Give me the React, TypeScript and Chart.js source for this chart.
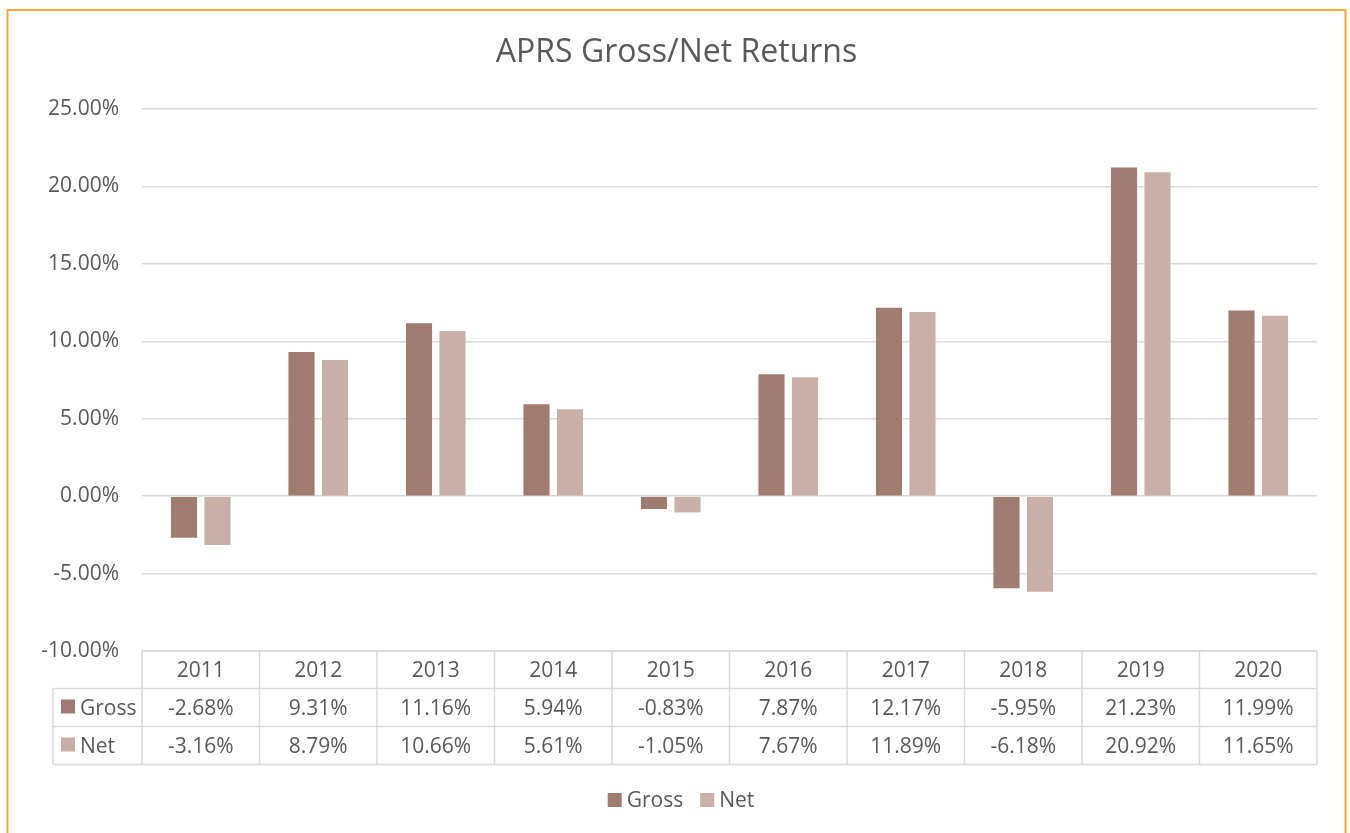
import React, { useEffect, useRef } from "react";
import { Chart, registerables } from "chart.js";

Chart.register(...registerables);

const chartTitle = "APRS Gross/Net Returns";
const categories = ["2011", "2012", "2013", "2014", "2015", "2016", "2017", "2018", "2019", "2020"];
const seriesNames = ["Gross", "Net"];
const grossValues = [-2.68, 9.31, 11.16, 5.94, -0.83, 7.87, 12.17, -5.95, 21.23, 11.99];
const netValues = [-3.16, 8.79, 10.66, 5.61, -1.05, 7.67, 11.89, -6.18, 20.92, 11.65];
const yMin = -10;
const yMax = 25;
const yStep = 5;

const FONT = '"Open Sans", sans-serif';
const TEXT = "#595959";
const GRID = "#D9D9D9";
const COLORS = ["#A07B70", "#C9AFA8"];
const BORDER = "#F4A63A";

const fmt = (v: number) => v.toFixed(2) + "%";

const decorPlugin = {
  id: "decor",
  beforeDraw(chart: any) {
    const ctx = chart.ctx as CanvasRenderingContext2D;
    const w = chart.width;
    const h = chart.height;
    ctx.save();
    ctx.fillStyle = "#ffffff";
    ctx.fillRect(0, 0, w, h);
    ctx.strokeStyle = BORDER;
    ctx.lineWidth = 2;
    ctx.beginPath();
    ctx.moveTo(7.5, h + 5);
    ctx.lineTo(7.5, 10);
    ctx.lineTo(1345.5, 10);
    ctx.lineTo(1345.5, h + 5);
    ctx.stroke();
    ctx.restore();
  },
  afterDraw(chart: any) {
    const ctx = chart.ctx as CanvasRenderingContext2D;
    const area = chart.chartArea;
    const n = categories.length;
    const colW = (area.right - area.left) / n;

    ctx.save();
    // Title
    ctx.fillStyle = TEXT;
    ctx.font = `32px ${FONT}`;
    ctx.textAlign = "center";
    ctx.textBaseline = "alphabetic";
    ctx.fillText(chartTitle, 676.5, 61.5);

    // Data table
    const top = area.bottom;
    const rows = [top, top + 37.5, top + 75.5, top + 113.5];
    const keyLeft = 53;
    ctx.strokeStyle = GRID;
    ctx.lineWidth = 1.5;
    ctx.beginPath();
    ctx.moveTo(area.left, rows[0]);
    ctx.lineTo(area.right, rows[0]);
    for (let r = 1; r < rows.length; r++) {
      ctx.moveTo(keyLeft, rows[r]);
      ctx.lineTo(area.right, rows[r]);
    }
    for (let i = 0; i <= n; i++) {
      const x = area.left + i * colW;
      ctx.moveTo(x, rows[0]);
      ctx.lineTo(x, rows[3]);
    }
    ctx.moveTo(keyLeft, rows[1]);
    ctx.lineTo(keyLeft, rows[3]);
    ctx.stroke();

    ctx.font = `21px ${FONT}`;
    ctx.fillStyle = TEXT;
    ctx.textAlign = "center";
    const xs = chart.scales.x;
    const baselines = [677, 715, 753];
    categories.forEach((c, i) => {
      const cx = xs.getPixelForValue(i);
      ctx.fillText(c, cx, baselines[0]);
      ctx.fillText(fmt(grossValues[i]), cx, baselines[1]);
      ctx.fillText(fmt(netValues[i]), cx, baselines[2]);
    });
    ctx.textAlign = "left";
    seriesNames.forEach((s, k) => {
      ctx.fillStyle = COLORS[k];
      ctx.fillRect(61, baselines[k + 1] - 15.5, 14, 14);
      ctx.fillStyle = TEXT;
      ctx.fillText(s, 80, baselines[k + 1]);
    });

    // Legend
    const sw = 14;
    const gapSwText = 5;
    const gapItems = 17;
    const widths = seriesNames.map((s) => ctx.measureText(s).width);
    const total = widths.reduce((a, b) => a + b, 0) + seriesNames.length * (sw + gapSwText) + gapItems * (seriesNames.length - 1);
    let x = 681 - total / 2;
    const ly = 807;
    seriesNames.forEach((s, k) => {
      ctx.fillStyle = COLORS[k];
      ctx.fillRect(x, ly - 14, sw, sw);
      x += sw + gapSwText;
      ctx.fillStyle = TEXT;
      ctx.fillText(s, x, ly);
      x += widths[k] + gapItems;
    });
    ctx.restore();
  },
};

export default function App() {
  const canvasRef = useRef<HTMLCanvasElement | null>(null);

  useEffect(() => {
    if (!canvasRef.current) return;
    const chart = new Chart(canvasRef.current, {
      type: "bar",
      data: {
        labels: categories,
        datasets: [
          {
            label: seriesNames[0],
            data: grossValues,
            backgroundColor: COLORS[0],
            categoryPercentage: 0.57,
            barPercentage: 0.78,
          },
          {
            label: seriesNames[1],
            data: netValues,
            backgroundColor: COLORS[1],
            categoryPercentage: 0.57,
            barPercentage: 0.78,
          },
        ],
      },
      options: {
        responsive: false,
        animation: false,
        layout: { padding: { top: 109, right: 33, bottom: 69, left: 0 } },
        plugins: {
          legend: { display: false },
          title: { display: false },
          tooltip: { enabled: false },
        },
        scales: {
          x: {
            grid: { display: false, drawTicks: false },
            border: { display: false },
            ticks: { display: false },
            afterFit: (s: any) => {
              s.height = 113;
            },
          },
          y: {
            min: yMin,
            max: yMax,
            ticks: {
              stepSize: yStep,
              callback: (v: any) => fmt(Number(v)),
              color: TEXT,
              font: { family: FONT, size: 21 },
              padding: 23,
            },
            grid: { color: GRID, lineWidth: 1.5, drawTicks: false },
            border: { display: false },
            afterFit: (s: any) => {
              s.width = 142;
            },
          },
        },
      },
      plugins: [decorPlugin],
    });
    return () => chart.destroy();
  }, []);

  return (
    <div style={{ position: "absolute", left: 0, top: 0, width: 1350, height: 833 }}>
      <canvas ref={canvasRef} width={1350} height={833} style={{ display: "block", width: 1350, height: 833 }} />
    </div>
  );
}
